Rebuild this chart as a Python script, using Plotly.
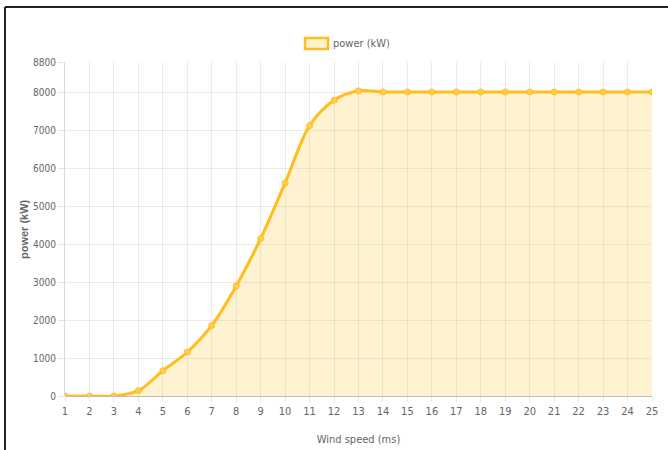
import plotly.graph_objects as go

wind_speed = list(range(1, 26))
power_kw = [0, 0, 0, 140, 666, 1158, 1860, 2900, 4150, 5613, 7123, 7790, 8040,
            8010, 8010, 8010, 8010, 8010, 8010, 8010, 8010, 8010, 8010, 8010, 8010]
y_ticks = [0, 1000, 2000, 3000, 4000, 5000, 6000, 7000, 8000, 8800]
series_name = "power (kW)"
x_title = "Wind speed (ms)"
y_title = "power (kW)"

LINE = "#FFBE1E"
FILL = "rgba(255, 196, 40, 0.22)"
NARROW = "DejaVu Sans Condensed, Liberation Sans Narrow, Arial Narrow, Liberation Sans, sans-serif"
FONT = "Liberation Sans, Arial, sans-serif"
TICK = "#666666"

fig = go.Figure()
fig.add_trace(go.Scatter(
    x=wind_speed, y=power_kw, name=series_name,
    mode="lines+markers",
    line=dict(color=LINE, width=3, shape="spline", smoothing=0.9),
    marker=dict(size=6, color="rgba(255, 205, 80, 0.9)", line=dict(color=LINE, width=1)),
    fill="tozeroy", fillcolor=FILL,
    showlegend=False,
))

fig.update_layout(
    width=668, height=450,
    margin=dict(l=65, r=16, t=62, b=54),
    paper_bgcolor="white", plot_bgcolor="white",
    font=dict(family=NARROW, size=11, color=TICK),
    xaxis=dict(
        range=[1, 25], tickmode="array", tickvals=wind_speed,
        automargin=False,
        showgrid=True, gridcolor="rgba(0,0,0,0.08)", gridwidth=1,
        zeroline=False, showline=False,
        ticks="outside", ticklen=5, tickcolor="rgba(0,0,0,0.1)",
        tickfont=dict(size=11, color=TICK, family=NARROW),
        title=dict(text=x_title, font=dict(size=11, color=TICK, family=NARROW), standoff=18),
    ),
    yaxis=dict(
        range=[0, 8800], tickmode="array", tickvals=y_ticks,
        automargin=False,
        showgrid=True, gridcolor="rgba(0,0,0,0.08)", gridwidth=1,
        zeroline=True, zerolinecolor="rgba(0,0,0,0.25)", zerolinewidth=1,
        showline=True, linecolor="rgba(0,0,0,0.15)", linewidth=1,
        ticks="outside", ticklen=6, tickcolor="rgba(0,0,0,0.1)",
        tickfont=dict(size=10, color=TICK, family=NARROW),
    ),
)

# y axis title placed like the reference
fig.add_annotation(xref="paper", yref="paper", x=(24 - 65) / 587, y=0.5,
                   text="<b>" + y_title + "</b>", textangle=-90, showarrow=False,
                   xanchor="center", yanchor="middle",
                   font=dict(size=11, color=TICK, family=FONT))

# legend box (Chart.js style) + label
fig.add_shape(type="rect", xref="paper", yref="paper",
              x0=(305 - 65) / 587, x1=(328 - 65) / 587,
              y0=(396 - 49) / 334, y1=(396 - 38) / 334,
              line=dict(color=LINE, width=2.5), fillcolor="rgba(255, 196, 40, 0.22)")
fig.add_annotation(xref="paper", yref="paper", x=(331 - 65) / 587, y=(396 - 44) / 334,
                   text=series_name, showarrow=False, xanchor="left", yanchor="middle",
                   font=dict(size=11, color=TICK, family=NARROW))

# outer frame lines (left and top)
fig.add_shape(type="line", xref="paper", yref="paper",
              x0=(5 - 65) / 587, x1=(668 - 65) / 587, y0=(396 - 7) / 334, y1=(396 - 7) / 334,
              line=dict(color="#222222", width=2))
fig.add_shape(type="line", xref="paper", yref="paper",
              x0=(5 - 65) / 587, x1=(5 - 65) / 587, y0=(396 - 7) / 334, y1=(396 - 452) / 334,
              line=dict(color="#222222", width=2))

fig.write_html("out.html", config={"displayModeBar": False},
               post_script="document.body.style.margin='0';")
